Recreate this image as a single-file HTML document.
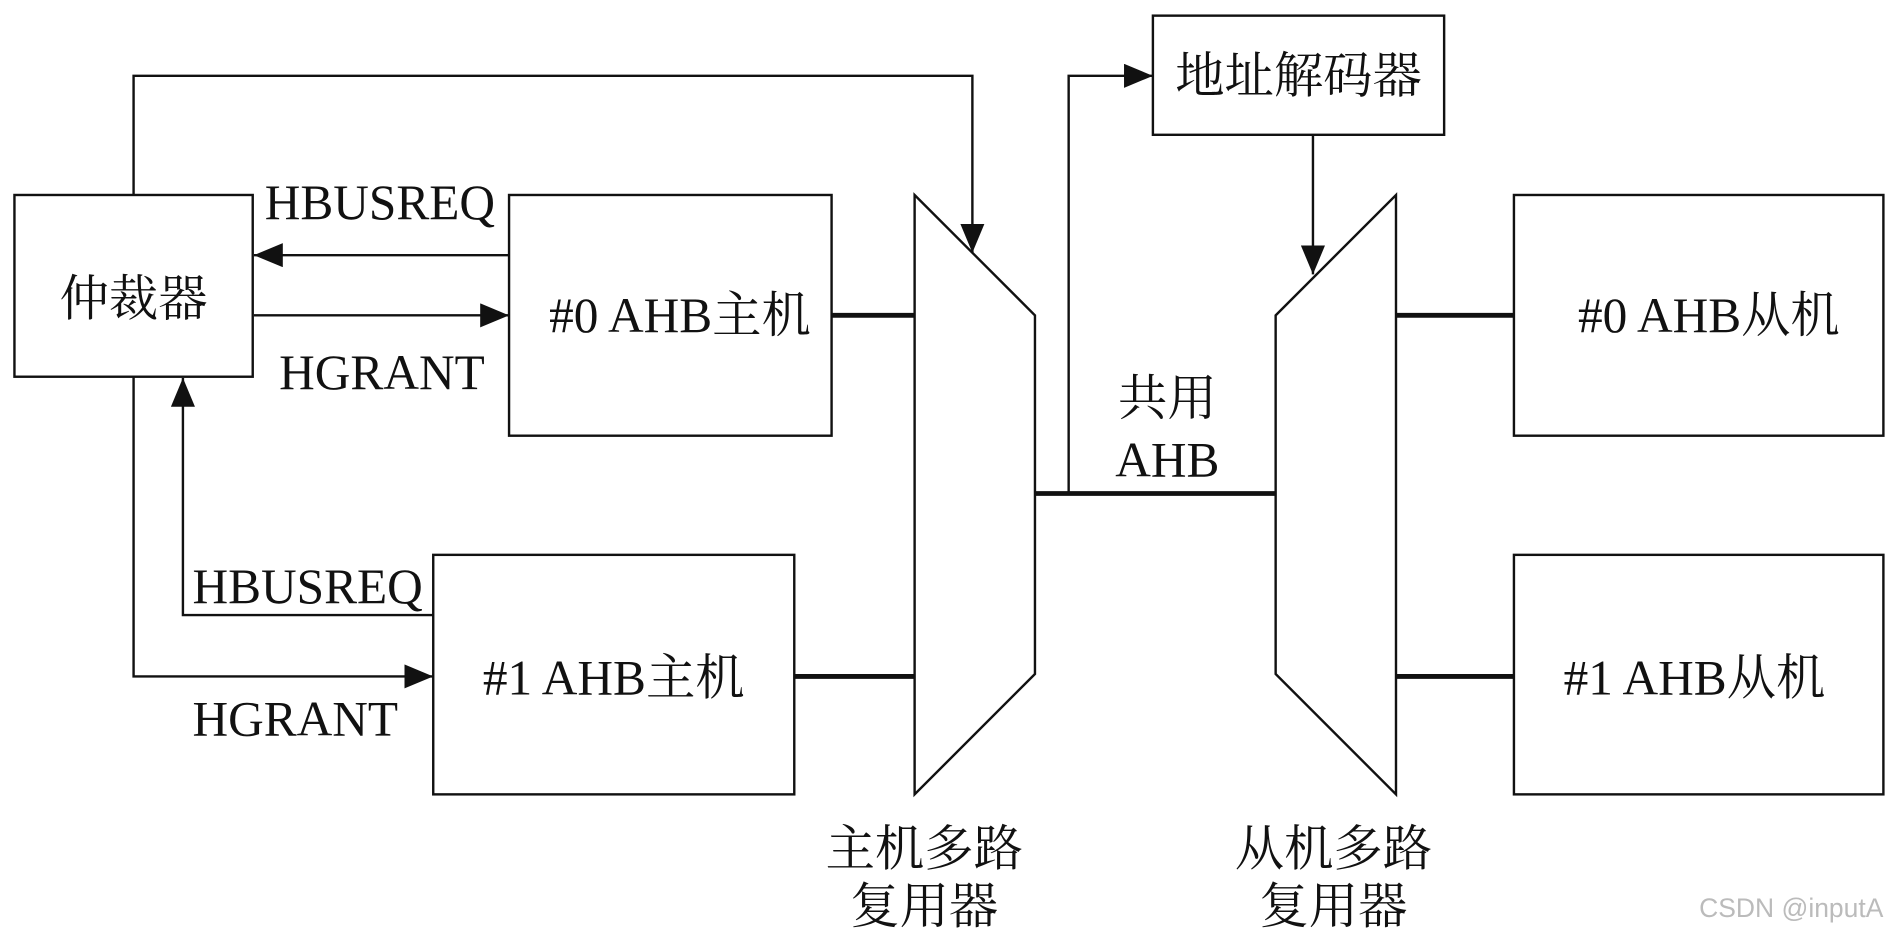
<!DOCTYPE html>
<html><head><meta charset="utf-8"><style>
html,body{margin:0;padding:0;background:#fff;}
svg{display:block;}
text{font-family:"Liberation Serif","Noto Serif CJK SC",serif;font-size:41px;fill:#111;}
</style></head><body>
<svg width="1887" height="940" viewBox="0 0 1568 781" preserveAspectRatio="none" xmlns="http://www.w3.org/2000/svg">
<defs>
<marker id="a" markerWidth="24" markerHeight="20" refX="24" refY="10" orient="auto" markerUnits="userSpaceOnUse" viewBox="0 0 24 20">
<path d="M0,0 L24,10 L0,20 Z" fill="#111"/></marker>
</defs>
<g fill="none" stroke="#111" stroke-width="2">
<rect x="12" y="162" width="198" height="151"/>
<rect x="423" y="162" width="268" height="200"/>
<rect x="360" y="461" width="300" height="199"/>
<rect x="958" y="13" width="242" height="99"/>
<rect x="1258" y="162" width="307" height="200"/>
<rect x="1258" y="461" width="307" height="199"/>
<polygon points="760,162 860,262 860,560 760,660"/>
<polygon points="1060,262 1160,162 1160,660 1060,560"/>
</g>
<g fill="none" stroke="#111" stroke-width="2">
<polyline points="111,162 111,63 808,63 808,210" marker-end="url(#a)"/>
<line x1="423" y1="212" x2="211" y2="212" marker-end="url(#a)"/>
<line x1="211" y1="262" x2="423" y2="262" marker-end="url(#a)"/>
<polyline points="360,511 152,511 152,314" marker-end="url(#a)"/>
<polyline points="111,313 111,562 360,562" marker-end="url(#a)"/>
<polyline points="888,410 888,63 958,63" marker-end="url(#a)"/>
<line x1="1091" y1="112" x2="1091" y2="228" marker-end="url(#a)"/>
</g>
<g stroke="#111" stroke-width="4">
<line x1="691" y1="262" x2="760" y2="262"/>
<line x1="660" y1="562" x2="760" y2="562"/>
<line x1="860" y1="410" x2="1060" y2="410"/>
<line x1="1160" y1="262" x2="1258" y2="262"/>
<line x1="1160" y1="562" x2="1258" y2="562"/>
</g>
<text x="111" y="262" text-anchor="middle">仲裁器</text>
<text x="220" y="182">HBUSREQ</text>
<text x="232" y="323">HGRANT</text>
<text x="160" y="501">HBUSREQ</text>
<text x="160" y="611">HGRANT</text>
<text x="565" y="276" text-anchor="middle">#0 AHB主机</text>
<text x="510" y="577" text-anchor="middle">#1 AHB主机</text>
<text x="1079" y="77" text-anchor="middle">地址解码器</text>
<text x="1420" y="276" text-anchor="middle">#0 AHB从机</text>
<text x="1408" y="577" text-anchor="middle">#1 AHB从机</text>
<text x="970" y="345" text-anchor="middle">共用</text>
<text x="970" y="396" text-anchor="middle">AHB</text>
<text x="768" y="719" text-anchor="middle">主机多路</text>
<text x="768" y="767" text-anchor="middle">复用器</text>
<text x="1108" y="719" text-anchor="middle">从机多路</text>
<text x="1108" y="767" text-anchor="middle">复用器</text>
<text x="1565" y="762" text-anchor="end" style="font-family:'Liberation Sans',sans-serif;font-size:22px;fill:#bbb">CSDN @inputA</text>
</svg>
</body></html>
